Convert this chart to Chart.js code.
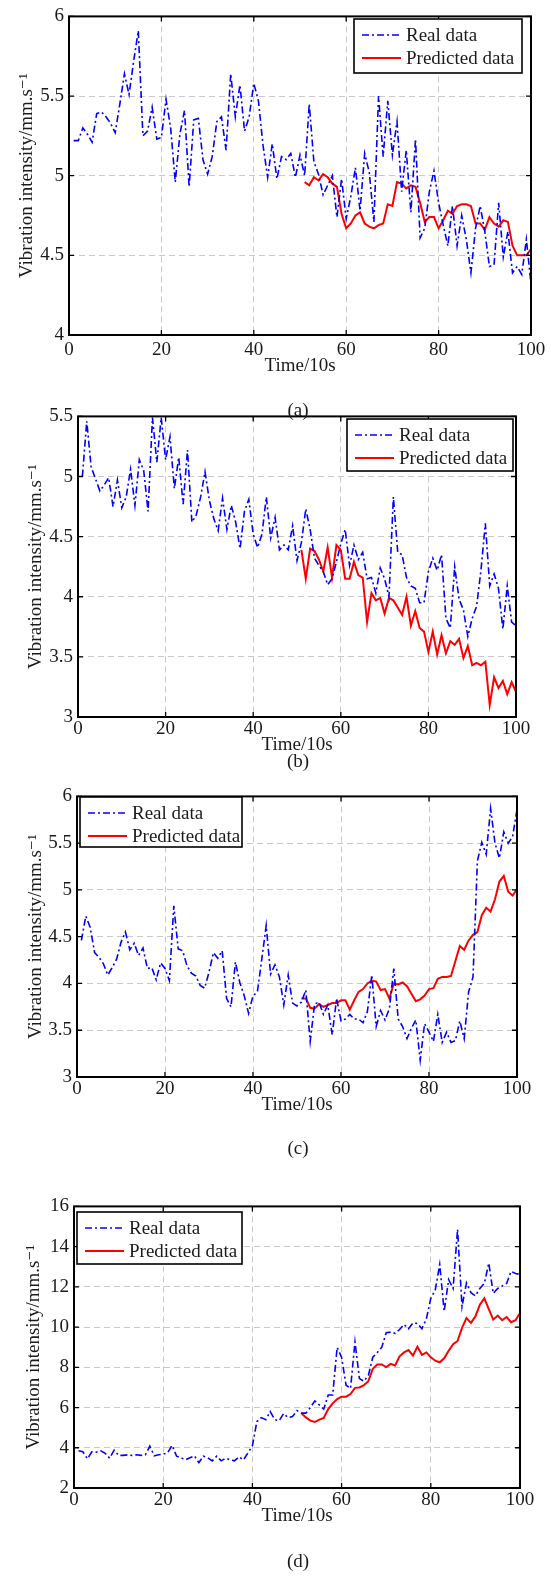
<!DOCTYPE html>
<html>
<head>
<meta charset="utf-8">
<script src="https://cdn.jsdelivr.net/npm/chart.js@4.4.1/dist/chart.umd.min.js"></script>
<style>
  html, body { margin: 0; padding: 0; background: #fff; }
  #page { position: relative; width: 551px; height: 1576px; overflow: hidden;
          font-family: 'Liberation Serif', 'Times New Roman', serif; color: #1a1a1a; }
  canvas { position: absolute; left: 0; }
  .cap { position: absolute; font-size: 19px; transform: translate(-50%, -50%); white-space: nowrap; }
</style>
</head>
<body>
<div id="page">
  <canvas id="chartA" width="551" height="377" style="top:0px"></canvas>
  <canvas id="chartB" width="551" height="356" style="top:400px"></canvas>
  <canvas id="chartC" width="551" height="336" style="top:780px"></canvas>
  <canvas id="chartD" width="551" height="337" style="top:1190px"></canvas>
  <div class="cap" style="left:298px;top:410px">(a)</div>
  <div class="cap" style="left:298px;top:761px">(b)</div>
  <div class="cap" style="left:298px;top:1148px">(c)</div>
  <div class="cap" style="left:298px;top:1561px">(d)</div>
</div>
<script>
// Series. Real data covers t = 1..100, predictions t = 51..100
const REAL_START = 1;
const PRED_START = 51;

const realA = [
  5.22, 5.22, 5.30, 5.26, 5.21, 5.39, 5.40, 5.37, 5.33, 5.27,
  5.45, 5.64, 5.51, 5.72, 5.91, 5.25, 5.28, 5.43, 5.23, 5.24,
  5.48, 5.30, 4.96, 5.26, 5.41, 4.93, 5.35, 5.36, 5.10, 5.01,
  5.12, 5.34, 5.37, 5.16, 5.64, 5.37, 5.57, 5.28, 5.37, 5.58,
  5.47, 5.19, 4.99, 5.20, 4.98, 5.12, 5.10, 5.14, 4.99, 5.13,
  5.00, 5.45, 5.09, 5.01, 4.88, 4.94, 5.00, 4.74, 4.98, 4.73,
  4.87, 5.05, 4.78, 5.14, 5.02, 4.71, 5.50, 5.12, 5.47, 5.13,
  5.34, 4.90, 5.16, 4.77, 5.23, 4.61, 4.67, 4.90, 5.03, 4.83,
  4.69, 4.56, 4.81, 4.56, 4.75, 4.60, 4.39, 4.67, 4.81, 4.65,
  4.43, 4.44, 4.83, 4.49, 4.65, 4.39, 4.43, 4.38, 4.60, 4.32
];
const predA = [
  4.96, 4.94, 4.99, 4.97, 5.01, 4.99, 4.95, 4.93, 4.76, 4.67,
  4.70, 4.75, 4.77, 4.70, 4.68, 4.67, 4.69, 4.70, 4.82, 4.81,
  4.96, 4.95, 4.92, 4.94, 4.93, 4.83, 4.71, 4.74, 4.74, 4.67,
  4.72, 4.78, 4.76, 4.81, 4.82, 4.82, 4.81, 4.70, 4.70, 4.66,
  4.74, 4.70, 4.68, 4.72, 4.71, 4.56, 4.50, 4.50, 4.50, 4.54
];

const realB = [
  5.00, 5.46, 5.08, 4.98, 4.88, 4.93, 4.99, 4.75, 4.97, 4.74,
  4.83, 5.06, 4.76, 5.14, 5.05, 4.71, 5.49, 5.12, 5.49, 5.14,
  5.33, 4.90, 5.16, 4.77, 5.22, 4.62, 4.68, 4.83, 5.04, 4.80,
  4.65, 4.55, 4.82, 4.56, 4.76, 4.62, 4.40, 4.71, 4.81, 4.52,
  4.41, 4.52, 4.83, 4.49, 4.66, 4.39, 4.43, 4.39, 4.59, 4.30,
  4.45, 4.73, 4.56, 4.32, 4.26, 4.21, 4.10, 4.15, 4.29, 4.44,
  4.56, 4.26, 4.43, 4.31, 4.37, 4.15, 4.16, 4.03, 4.24, 4.15,
  4.00, 4.83, 4.37, 4.35, 4.16, 4.09, 4.07, 3.95, 3.95, 4.21,
  4.32, 4.22, 4.35, 3.82, 3.74, 4.25, 3.98, 3.89, 3.67, 3.82,
  3.92, 4.22, 4.61, 4.09, 4.19, 4.07, 3.73, 4.09, 3.79, 3.76
];
const predB = [
  4.39, 4.15, 4.40, 4.38, 4.31, 4.21, 4.41, 4.16, 4.43, 4.39,
  4.15, 4.15, 4.29, 4.18, 4.16, 3.79, 4.03, 3.97, 3.99, 3.86,
  3.99, 3.97, 3.91, 3.85, 4.00, 3.76, 3.88, 3.74, 3.71, 3.54,
  3.71, 3.52, 3.68, 3.53, 3.63, 3.60, 3.65, 3.49, 3.59, 3.43,
  3.45, 3.43, 3.46, 3.10, 3.33, 3.24, 3.30, 3.19, 3.29, 3.21
];

const realC = [
  4.46, 4.72, 4.60, 4.33, 4.28, 4.21, 4.09, 4.17, 4.26, 4.44,
  4.55, 4.36, 4.43, 4.30, 4.38, 4.16, 4.17, 4.04, 4.22, 4.16,
  4.03, 4.83, 4.37, 4.35, 4.19, 4.11, 4.08, 3.98, 3.95, 4.12,
  4.33, 4.27, 4.35, 3.84, 3.75, 4.23, 4.01, 3.87, 3.68, 3.87,
  3.91, 4.26, 4.62, 4.10, 4.20, 4.07, 3.77, 4.09, 3.79, 3.76,
  3.80, 3.93, 3.38, 3.78, 3.80, 3.67, 3.77, 3.45, 3.84, 3.60,
  3.62, 3.67, 3.62, 3.62, 3.58, 3.70, 4.09, 3.54, 3.71, 3.61,
  3.73, 4.16, 3.62, 3.54, 3.41, 3.52, 3.61, 3.18, 3.57, 3.48,
  3.38, 3.67, 3.37, 3.48, 3.37, 3.39, 3.60, 3.41, 3.91, 4.07,
  5.31, 5.51, 5.38, 5.87, 5.50, 5.34, 5.62, 5.50, 5.57, 5.86
];
const predC = [
  3.84, 3.84, 3.74, 3.73, 3.78, 3.75, 3.77, 3.79, 3.79, 3.82,
  3.82, 3.72, 3.82, 3.91, 3.94, 4.00, 4.03, 4.02, 3.93, 3.94,
  3.84, 4.00, 3.99, 4.01, 3.97, 3.89, 3.81, 3.83, 3.87, 3.94,
  3.95, 4.05, 4.07, 4.07, 4.08, 4.24, 4.40, 4.36, 4.46, 4.52,
  4.55, 4.73, 4.81, 4.77, 4.90, 5.09, 5.15, 4.98, 4.94, 5.01
];

const realD = [
  3.85, 3.80, 3.45, 3.80, 3.78, 3.85, 3.72, 3.48, 3.88, 3.62,
  3.62, 3.65, 3.62, 3.65, 3.62, 3.65, 4.08, 3.60, 3.65, 3.68,
  3.75, 4.12, 3.58, 3.50, 3.40, 3.50, 3.60, 3.26, 3.58, 3.50,
  3.35, 3.58, 3.35, 3.48, 3.40, 3.35, 3.55, 3.40, 3.75, 4.10,
  5.30, 5.50, 5.40, 5.80, 5.40, 5.35, 5.70, 5.50, 5.55, 5.85,
  5.72, 5.72, 6.00, 6.33, 6.13, 5.92, 6.62, 6.62, 8.99, 8.50,
  7.11, 6.95, 9.26, 7.44, 7.31, 7.60, 8.50, 8.74, 8.99, 9.72,
  9.75, 9.69, 9.88, 10.13, 9.92, 10.21, 10.18, 9.92, 10.40, 11.43,
  11.84, 13.11, 10.78, 12.36, 11.92, 14.86, 11.02, 12.20, 11.71, 11.55,
  11.92, 12.17, 13.18, 11.68, 11.92, 12.04, 12.17, 12.77, 12.66, 12.62
];
const predD = [
  5.72, 5.51, 5.35, 5.28, 5.40, 5.48, 5.92, 6.21, 6.42, 6.54,
  6.54, 6.67, 6.98, 7.00, 7.11, 7.31, 7.93, 8.14, 8.14, 8.01,
  8.17, 8.09, 8.55, 8.74, 8.86, 8.58, 9.03, 8.62, 8.74, 8.50,
  8.33, 8.25, 8.45, 8.82, 9.15, 9.31, 9.96, 10.45, 10.21, 10.53,
  11.11, 11.43, 10.89, 10.37, 10.57, 10.34, 10.50, 10.24, 10.34, 10.70
];

// axis ranges [min, max, step]
const xRange = [0, 100, 20];
const yRangeA = [4, 6, 0.5];
const yRangeB = [3, 5.5, 0.5];
const yRangeC = [3, 6, 0.5];
const yRangeD = [2, 16, 2];

const seriesNames = ['Real data', 'Predicted data'];
const xTitle = 'Time/10s';
const yTitle = 'Vibration intensity/mm.s\u207B\u00B9';

Chart.defaults.font.family = "'Liberation Serif', 'DejaVu Serif', serif";
Chart.defaults.font.size = 19;
Chart.defaults.color = '#1a1a1a';

// MATLAB-like box: inner ticks on all sides, black frame, boxed legend
const matlabBox = {
  id: 'matlabBox',
  afterDatasetsDraw(chart, args, opts) {
    const { ctx, chartArea: a, scales: { x, y } } = chart;
    ctx.save();
    ctx.setLineDash([]);
    ctx.strokeStyle = '#000';
    ctx.lineWidth = 1.3;
    ctx.beginPath();
    x.ticks.forEach(t => {
      const px = x.getPixelForValue(t.value);
      ctx.moveTo(px, a.bottom); ctx.lineTo(px, a.bottom - 5);
      ctx.moveTo(px, a.top); ctx.lineTo(px, a.top + 5);
    });
    y.ticks.forEach(t => {
      const py = y.getPixelForValue(t.value);
      ctx.moveTo(a.left, py); ctx.lineTo(a.left + 5, py);
      ctx.moveTo(a.right, py); ctx.lineTo(a.right - 5, py);
    });
    ctx.stroke();
    ctx.lineWidth = 2;
    ctx.strokeRect(a.left, a.top, a.right - a.left, a.bottom - a.top);

    // legend
    const L = opts.box;
    ctx.fillStyle = '#fff';
    ctx.fillRect(L.x, L.y, L.w, L.h);
    ctx.lineWidth = 1.6;
    ctx.strokeRect(L.x, L.y, L.w, L.h);
    ctx.font = "19px 'Liberation Serif', 'DejaVu Serif', serif";
    ctx.textBaseline = 'middle';
    chart.data.datasets.forEach((ds, i) => {
      const ry = L.y + 16 + i * 23;
      ctx.strokeStyle = ds.borderColor;
      ctx.lineWidth = ds.borderWidth;
      ctx.setLineDash(ds.borderDash || []);
      ctx.beginPath();
      ctx.moveTo(L.x + 8, ry); ctx.lineTo(L.x + 47, ry);
      ctx.stroke();
      ctx.setLineDash([]);
      ctx.fillStyle = '#1a1a1a';
      ctx.fillText(ds.label, L.x + 52, ry + 1);
    });
    ctx.restore();
  }
};

function makePanel(id, real, pred, yRange, st) {
  const realPts = real.map((v, i) => ({ x: REAL_START + i, y: v }));
  const predPts = pred.map((v, i) => ({ x: PRED_START + i, y: v }));
  const gridStyle = { color: '#c9c9c9', lineWidth: 1, drawTicks: false, borderDash: [6, 4] };
  new Chart(document.getElementById(id), {
    type: 'line',
    data: {
      datasets: [
        { label: seriesNames[0], data: realPts, borderColor: '#0000ff', borderWidth: 1.6,
          borderDash: [7, 3, 2, 3], pointRadius: 0, tension: 0, fill: false },
        { label: seriesNames[1], data: predPts, borderColor: '#ff0000', borderWidth: 2,
          pointRadius: 0, tension: 0, fill: false }
      ]
    },
    options: {
      responsive: false,
      animation: false,
      events: [],
      layout: { padding: { top: st.top, right: 551 - st.right, left: 0, bottom: 0 } },
      plugins: {
        legend: { display: false },
        tooltip: { enabled: false },
        matlabBox: { box: st.legend }
      },
      scales: {
        x: {
          type: 'linear', min: xRange[0], max: xRange[1],
          ticks: { stepSize: xRange[2], padding: st.xPad, maxRotation: 0, autoSkip: false },
          grid: gridStyle,
          border: { display: false, dash: [6, 4] },
          title: { display: true, text: xTitle, padding: 0 },
          afterFit: s => { s.height = st.xH; }
        },
        y: {
          min: yRange[0], max: yRange[1],
          ticks: { stepSize: yRange[2], padding: 5, callback: v => String(Number(v.toFixed(2))) },
          grid: gridStyle,
          border: { display: false, dash: [6, 4] },
          title: { display: true, text: yTitle, padding: { top: st.titleX - 11.4, bottom: 0 } },
          afterFit: s => { s.width = st.left; }
        }
      }
    },
    plugins: [matlabBox]
  });
}

makePanel('chartA', realA, predA, yRangeA,
  { top: 15, left: 69, right: 531, xH: 42, xPad: 4, titleX: 27, legend: { x: 354, y: 19, w: 168, h: 54 } });
makePanel('chartB', realB, predB, yRangeB,
  { top: 15, left: 78, right: 516, xH: 39, xPad: 1, titleX: 36, legend: { x: 347, y: 19, w: 166, h: 52 } });
makePanel('chartC', realC, predC, yRangeC,
  { top: 13, left: 77, right: 517, xH: 39, xPad: 1, titleX: 36, legend: { x: 80, y: 17, w: 162, h: 50 } });
makePanel('chartD', realD, predD, yRangeD,
  { top: 13, left: 74, right: 520, xH: 39, xPad: 1, titleX: 34, legend: { x: 77, y: 22, w: 165, h: 52 } });
</script>
</body>
</html>
